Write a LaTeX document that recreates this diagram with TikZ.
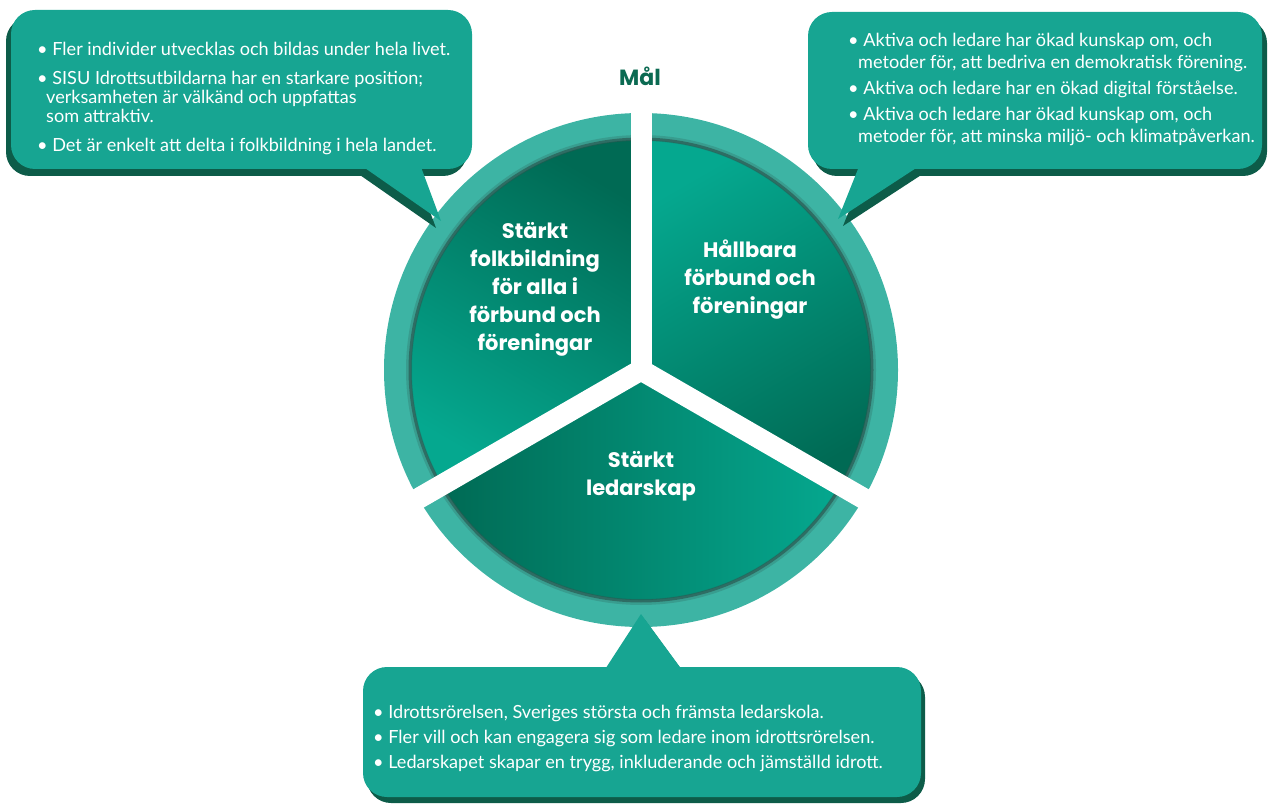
\documentclass[tikz,border=0pt]{standalone}
\usepackage{fontspec}
\setmainfont{Lato}
\newfontfamily\labfont{Poppins}
\definecolor{ringc}{HTML}{3DB4A4}
\definecolor{secdark}{HTML}{006A54}
\definecolor{seclight}{HTML}{05A88F}
\definecolor{boxc}{HTML}{17A592}
\definecolor{boxshadow}{HTML}{0D5C49}
\definecolor{innershadow}{HTML}{2B5A52}
\definecolor{titlec}{HTML}{0B6A52}
\tikzset{
  boxtext/.style={anchor=base west, inner sep=0pt, text=white, font=\fontsize{18.1}{20}\selectfont},
  seclabel/.style={align=center, text=white, inner sep=0pt, font=\labfont\fontsize{21}{28}\selectfont\bfseries},
  gap/.style={white, line width=21pt},
}
\begin{document}
\begin{tikzpicture}[x=1pt,y=1pt,line join=round]
\useasboundingbox (0,0) rectangle (1269,804);
\coordinate (O) at (641,434);
% ring
\fill[ringc] (O) circle (257);
% sectors
\shade[top color=secdark, bottom color=seclight, shading angle=-30]
  (O) -- ++(90:230) arc[start angle=90,end angle=210,radius=230] -- cycle;
\shade[top color=secdark, bottom color=seclight, shading angle=-150]
  (O) -- ++(-30:230) arc[start angle=-30,end angle=90,radius=230] -- cycle;
\shade[top color=secdark, bottom color=seclight, shading angle=90]
  (O) -- ++(210:230) arc[start angle=210,end angle=330,radius=230] -- cycle;
% inner shadow of ring
\draw[innershadow, line width=6pt, opacity=.25] (O) circle (232);
\draw[innershadow, line width=3pt, opacity=.7] (O) circle (231);
% gaps
\draw[gap] (O) -- ++(90:300);
\draw[gap] (O) -- ++(210:300);
\draw[gap] (O) -- ++(330:300);
% top-left callout
\begin{scope}[shift={(-5,-7)}]
  \fill[boxshadow, rounded corners=24pt] (11,635) rectangle (472,794);
  \fill[boxshadow] (352,645) -- (441,583) -- (418,645) -- cycle;
\end{scope}
\fill[boxc, rounded corners=24pt] (11,635) rectangle (472,794);
\fill[boxc] (352,645) -- (441,583) -- (418,645) -- cycle;
% top-right callout
\begin{scope}[shift={(5,-7)}]
  \fill[boxshadow, rounded corners=24pt] (808,635) rectangle (1262,792);
  \fill[boxshadow] (862,645) -- (838,585) -- (930,645) -- cycle;
\end{scope}
\fill[boxc, rounded corners=24pt] (808,635) rectangle (1262,792);
\fill[boxc] (862,645) -- (838,585) -- (930,645) -- cycle;
% bottom callout
\begin{scope}[shift={(4,-6)}]
  \fill[boxshadow, rounded corners=24pt] (363,7) rectangle (921,137);
  \fill[boxshadow] (602,130) -- (641,190) -- (685,130) -- cycle;
\end{scope}
\fill[boxc, rounded corners=24pt] (363,7) rectangle (921,137);
\fill[boxc] (602,130) -- (641,190) -- (685,130) -- cycle;
% title
\node[text=titlec, font=\labfont\fontsize{22}{22}\selectfont\bfseries] (title) at (640,728) {Mål};
% sector labels
\node[seclabel] (lab1) at (535,515) {Stärkt\\folkbildning\\för alla i\\förbund och\\föreningar};
\node[seclabel] (lab2) at (750,524) {Hållbara\\förbund och\\föreningar};
\node[seclabel] (lab3) at (641,328) {Stärkt\\ledarskap};
% top-left texts
\node[boxtext] (tl1) at (37,748) {• Fler individer utvecklas och bildas under hela livet.};
\node[boxtext] (tl2) at (37,719) {• SISU Idrottsutbildarna har en starkare position;};
\node[boxtext] (tl3) at (46,700) {verksamheten är välkänd och uppfattas};
\node[boxtext] (tl4) at (46,681) {som attraktiv.};
\node[boxtext] (tl5) at (37,652) {• Det är enkelt att delta i folkbildning i hela landet.};
% top-right texts
\node[boxtext] (tr1) at (848,757) {• Aktiva och ledare har ökad kunskap om, och};
\node[boxtext] (tr2) at (858,735) {metoder för, att bedriva en demokratisk förening.};
\node[boxtext] (tr3) at (848,709) {• Aktiva och ledare har en ökad digital förståelse.};
\node[boxtext] (tr4) at (848,683) {• Aktiva och ledare har ökad kunskap om, och};
\node[boxtext] (tr5) at (858,661) {metoder för, att minska miljö- och klimatpåverkan.};
% bottom texts
\node[boxtext] (b1) at (373,86) {• Idrottsrörelsen, Sveriges största och främsta ledarskola.};
\node[boxtext] (b2) at (373,61) {• Fler vill och kan engagera sig som ledare inom idrottsrörelsen.};
\node[boxtext] (b3) at (373,36) {• Ledarskapet skapar en trygg, inkluderande och jämställd idrott.};
\end{tikzpicture}
\end{document}
